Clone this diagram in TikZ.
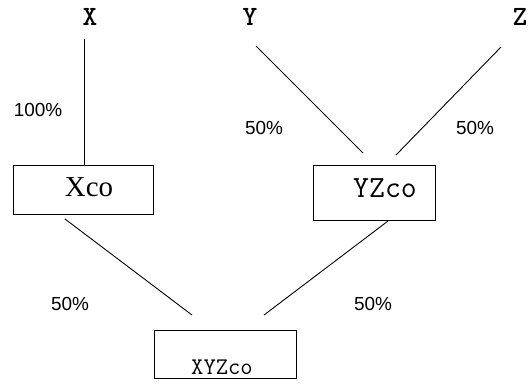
\documentclass[tikz,border=0pt]{standalone}
\usepackage{fontspec}
\setmainfont{Liberation Serif}
\newfontfamily\sansf{Liberation Sans}
\begin{document}
\begin{tikzpicture}[x=1bp,y=-1bp,
  boxst/.style={draw,line width=1bp,inner sep=0pt,anchor=north west},
  lnk/.style={line width=0.9bp},
  pct/.style={font=\sansf\fontsize{19}{19}\selectfont,inner sep=0pt},
  topl/.style={font=\ttfamily\bfseries\fontsize{28}{28}\selectfont,inner sep=0pt}]
\useasboundingbox (0,0) rectangle (529,383);
% top labels
\node[topl] (x) at (90,17) {X};
\node[topl] (y) at (250,17) {Y};
\node[topl] (z) at (520,17) {Z};
% boxes
\node[boxst,minimum width=140bp,minimum height=49bp] (xco) at (13,165) {};
\node[boxst,minimum width=122bp,minimum height=55bp] (yzco) at (313,165) {};
\node[boxst,minimum width=142bp,minimum height=48bp] (xyzco) at (154,330) {};
\node[font=\fontsize{29}{29}\selectfont,inner sep=0pt] (txco) at (89,187) {Xco};
\node[font=\ttfamily\fontsize{31}{31}\selectfont,inner sep=0pt] (tyzco) at (385,188) {YZco};
\node[font=\ttfamily\fontsize{24}{24}\selectfont,inner sep=0pt] (txyzco) at (222,367) {XYZco};
% link end points
\coordinate (xa) at (84,39);
\coordinate (xb) at (84,165);
\coordinate (ya) at (256,46);
\coordinate (yb) at (363,153);
\coordinate (za) at (501,47);
\coordinate (zb) at (396,155);
\coordinate (la) at (65,219);
\coordinate (lb) at (192,315);
\coordinate (ra) at (388,221);
\coordinate (rb) at (264,315);
\draw[lnk] (xa) -- (xb);
\draw[lnk] (ya) -- (yb);
\draw[lnk] (za) -- (zb);
\draw[lnk] (la) -- (lb);
\draw[lnk] (ra) -- (rb);
% percentages
\node[pct] (p1) at (38,110) {100\%};
\node[pct] (p2) at (264,128) {50\%};
\node[pct] (p3) at (475,128) {50\%};
\node[pct] (p4) at (70,304) {50\%};
\node[pct] (p5) at (373,304) {50\%};
\end{tikzpicture}
\end{document}
